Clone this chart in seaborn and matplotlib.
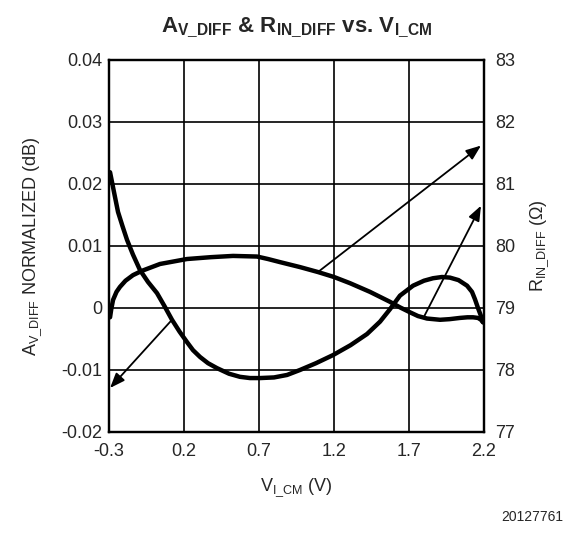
import matplotlib
matplotlib.use("Agg")
import matplotlib.pyplot as plt
import seaborn as sns
import pandas as pd

# A_V_DIFF normalized gain (dB), left axis
v_gain = [-0.293, -0.265, -0.24, -0.21, -0.18, -0.14, -0.093, -0.04, 0.02, 0.07, 0.12, 0.17,
          0.22, 0.26, 0.307, 0.36, 0.42, 0.50, 0.573, 0.64, 0.707, 0.80, 0.887, 0.973,
          1.08, 1.193, 1.31, 1.42, 1.507, 1.573, 1.64, 1.727, 1.80, 1.86, 1.92, 1.973,
          2.03, 2.087, 2.12, 2.14, 2.16, 2.18, 2.193]
gain_db = [0.0219, 0.0185, 0.0155, 0.0132, 0.0110, 0.0086, 0.0061, 0.0042, 0.0024, 0.0003, -0.0019, -0.0038,
           -0.0055, -0.0068, -0.0079, -0.0089, -0.0097, -0.0106, -0.0111, -0.0113, -0.0113, -0.0112, -0.0108, -0.0100,
           -0.0089, -0.0076, -0.0060, -0.0042, -0.0022, -0.0002, 0.0020, 0.0036, 0.0044, 0.0048, 0.0050, 0.0049,
           0.0045, 0.0036, 0.0026, 0.0014, 0.0000, -0.0013, -0.0023]

# R_IN_DIFF (ohm), right axis
v_res = [-0.293, -0.285, -0.273, -0.25, -0.227, -0.19, -0.14, -0.08, 0.04, 0.22, 0.38, 0.527,
         0.687, 0.76, 0.84, 0.973, 1.093, 1.20, 1.307, 1.44, 1.573, 1.64, 1.707, 1.76,
         1.82, 1.907, 1.97, 2.04, 2.09, 2.127, 2.16, 2.18, 2.193]
res_ohm = [78.85, 78.98, 79.13, 79.26, 79.34, 79.44, 79.53, 79.60, 79.71, 79.79, 79.82, 79.84,
           79.83, 79.79, 79.74, 79.66, 79.58, 79.50, 79.40, 79.26, 79.10, 79.01, 78.93, 78.87,
           78.83, 78.81, 78.82, 78.84, 78.85, 78.85, 78.84, 78.81, 78.77]

x_ticks = [-0.3, 0.2, 0.7, 1.2, 1.7, 2.2]
x_tick_labels = ["-0.3", "0.2", "0.7", "1.2", "1.7", "2.2"]
gain_ticks = [-0.02, -0.01, 0.0, 0.01, 0.02, 0.03, 0.04]
gain_tick_labels = ["-0.02", "-0.01", "0", "0.01", "0.02", "0.03", "0.04"]
res_ticks = [77, 78, 79, 80, 81, 82, 83]

sns.set_style("white")
plt.rcParams["font.family"] = ["Liberation Sans", "DejaVu Sans"]
plt.rcParams["mathtext.fontset"] = "custom"
plt.rcParams["mathtext.rm"] = "Liberation Sans"
plt.rcParams["mathtext.it"] = "Liberation Sans"
plt.rcParams["mathtext.bf"] = "Liberation Sans:bold"

fig = plt.figure(figsize=(5.69, 5.35), dpi=100)
ax = fig.add_axes([109 / 569, 1 - 432 / 535, 375 / 569, 372 / 535])
ax2 = ax.twinx()

df_gain = pd.DataFrame({"v": v_gain, "g": gain_db})
df_res = pd.DataFrame({"v": v_res, "r": res_ohm})

sns.lineplot(data=df_gain, x="v", y="g", ax=ax, color="black", linewidth=3.2,
             solid_joinstyle="round", solid_capstyle="round")
sns.lineplot(data=df_res, x="v", y="r", ax=ax2, color="black", linewidth=3.2,
             solid_joinstyle="round", solid_capstyle="round")

ax.set_xlim(-0.3, 2.2)
ax.set_ylim(-0.02, 0.04)
ax2.set_ylim(77, 83)

ax.set_xticks(x_ticks)
ax.set_xticklabels(x_tick_labels)
ax.set_yticks(gain_ticks)
ax.set_yticklabels(gain_tick_labels)
ax2.set_yticks(res_ticks)
ax2.set_yticklabels([str(t) for t in res_ticks])

ax.grid(True, color="black", linewidth=1.2)
ax.set_axisbelow(True)
ax2.grid(False)
for a in (ax, ax2):
    for s in a.spines.values():
        s.set_color("black")
        s.set_linewidth(1.6)
ax.tick_params(axis="x", length=0, pad=8, labelsize=13)
ax.tick_params(axis="y", length=0, pad=5, labelsize=13)
ax2.tick_params(axis="y", length=0, pad=8, labelsize=13)

ax.set_xlabel(r"$\mathrm{V_{I\_CM}}$ (V)", fontsize=13, labelpad=12)
ax.set_ylabel(r"$\mathrm{A_{V\_DIFF}}$ NORMALIZED (dB)", fontsize=13, labelpad=12)
ax2.set_ylabel(r"$\mathrm{R_{IN\_DIFF}}$ ($\Omega$)", fontsize=13, labelpad=10)

ax.set_title(r"$\mathbf{A_{V\_DIFF}}$ & $\mathbf{R_{IN\_DIFF}}$ vs. $\mathbf{V_{I\_CM}}$",
             fontsize=16, fontweight="bold", pad=20)

# Pointer arrows from each curve to its axis
arrow = dict(arrowstyle="-|>,head_length=0.9,head_width=0.35", color="black", lw=1.3,
             shrinkA=0, shrinkB=0)
ax.annotate("", xy=(-0.293, -0.0129), xytext=(0.12, -0.0019), arrowprops=arrow,
            annotation_clip=False)
ax2.annotate("", xy=(2.18, 81.62), xytext=(1.093, 79.58), arrowprops=arrow,
             annotation_clip=False)
ax2.annotate("", xy=(2.18, 80.65), xytext=(1.80, 78.86), arrowprops=arrow,
             annotation_clip=False)

fig.text(0.99, 0.02, "20127761", ha="right", va="bottom", fontsize=10)

fig.savefig("out.png", dpi=100)
